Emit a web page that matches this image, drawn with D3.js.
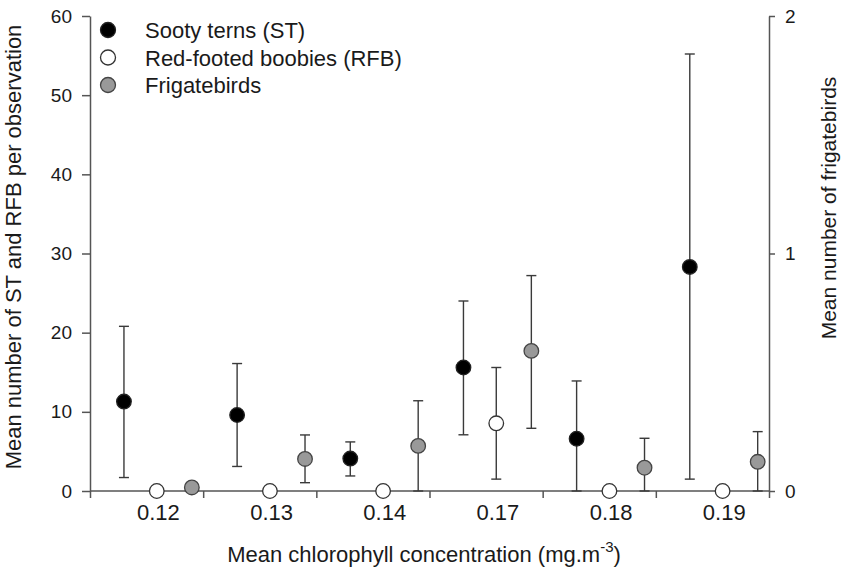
<!DOCTYPE html>
<html>
<head>
<meta charset="utf-8">
<script src="https://cdn.jsdelivr.net/npm/d3@7"></script>
<style>
  body { margin: 0; background: #fff; }
  text { font-family: "Liberation Sans", Arial, sans-serif; fill: #1a1a1a; }
</style>
</head>
<body>
<div id="chart"></div>
<script>
// chlorophyll classes on the x axis
var categories = ["0.12", "0.13", "0.14", "0.17", "0.18", "0.19"];

// Sooty terns (left axis)
var stMean  = [11.3, 9.6, 4.1, 15.6, 6.6, 28.3];
var stUpper = [20.8, 16.1, 6.2, 24.0, 13.9, 55.2];
var stLower = [1.7, 3.1, 1.9, 7.1, 0, 1.5];

// Red-footed boobies (left axis)
var rfbMean  = [0, 0, 0, 8.55, 0, 0];
var rfbUpper = [null, null, null, 15.6, null, null];
var rfbLower = [null, null, null, 1.5, null, null];

// Frigatebirds (right axis)
var fbMean  = [0.015, 0.135, 0.19, 0.59, 0.098, 0.123];
var fbUpper = [null, 0.236, 0.38, 0.907, 0.222, 0.25];
var fbLower = [null, 0.035, 0, 0.264, 0, 0];

var leftTicks = [0, 10, 20, 30, 40, 50, 60];
var rightTicks = [0, 1, 2];

function drawGraph() {
    var width = 849, height = 570;
    var left = 90, right = 769, top = 16, bottom = 491;

    var svg = d3.select("#chart")
        .append("svg")
        .attr("width", width)
        .attr("height", height);

    var x = d3.scaleBand()
        .domain(categories)
        .range([left, right])
        .paddingInner(0)
        .paddingOuter(0);
    var bw = x.bandwidth();

    var yLeft = d3.scaleLinear().domain([0, 60]).range([bottom, top]);
    var yRight = d3.scaleLinear().domain([0, 2]).range([bottom, top]);

    // band boundaries carry the x tick marks
    var xEdge = d3.scaleLinear().domain([0, categories.length]).range([left, right]);

    var axisColor = "#555";

    var gx = svg.append("g")
        .attr("transform", "translate(0," + bottom + ")")
        .call(d3.axisBottom(xEdge).tickValues(d3.range(categories.length + 1)).tickSize(7).tickSizeOuter(0).tickFormat(""));
    gx.select(".domain").remove();
    gx.append("line")
        .attr("x1", left).attr("x2", right)
        .attr("stroke", axisColor).attr("stroke-width", 1.5);
    gx.selectAll(".tick line").attr("stroke", axisColor).attr("stroke-width", 1.5);

    // tick labels sit under the RFB column of each group
    var xLab = d3.scalePoint().domain(categories)
        .range([left + bw * 0.6, left + bw * 0.6 + bw * (categories.length - 1)]);
    var gxl = svg.append("g")
        .attr("transform", "translate(0," + bottom + ")")
        .call(d3.axisBottom(xLab).tickSize(0).tickPadding(29));
    gxl.select(".domain").remove();
    gxl.selectAll("text")
        .attr("font-size", "22px")
        .attr("font-family", "Liberation Sans, Arial, sans-serif")
        .attr("fill", "#1a1a1a")
        .attr("dy", "0");

    var gl = svg.append("g")
        .attr("transform", "translate(" + left + ",0)")
        .call(d3.axisLeft(yLeft).tickValues(leftTicks).tickSize(8).tickSizeOuter(0).tickPadding(10));
    gl.select(".domain").attr("stroke", axisColor).attr("stroke-width", 1.5);
    gl.selectAll(".tick line").attr("stroke", axisColor).attr("stroke-width", 1.5);
    gl.selectAll("text")
        .attr("font-size", "19px")
        .attr("font-family", "Liberation Sans, Arial, sans-serif")
        .attr("fill", "#1a1a1a");

    var gr = svg.append("g")
        .attr("transform", "translate(" + right + ",0)")
        .call(d3.axisRight(yRight).tickValues(rightTicks).tickFormat(d3.format("d")).tickSize(6).tickSizeOuter(0).tickPadding(10));
    gr.select(".domain").attr("stroke", axisColor).attr("stroke-width", 1.5);
    gr.selectAll(".tick line").attr("stroke", axisColor).attr("stroke-width", 1.5);
    gr.selectAll("text")
        .attr("font-size", "19px")
        .attr("font-family", "Liberation Sans, Arial, sans-serif")
        .attr("fill", "#1a1a1a");

    // axis titles
    svg.append("text")
        .attr("transform", "translate(21,247) rotate(-90)")
        .attr("text-anchor", "middle")
        .attr("font-size", "22px")
        .text("Mean number of ST and RFB per observation");

    svg.append("text")
        .attr("transform", "translate(836,208) rotate(-90)")
        .attr("text-anchor", "middle")
        .attr("font-size", "21px")
        .text("Mean number of frigatebirds");

    var xt = svg.append("text")
        .attr("x", 424)
        .attr("y", 562)
        .attr("text-anchor", "middle")
        .attr("font-size", "22px");
    xt.append("tspan").text("Mean chlorophyll concentration (mg.m");
    xt.append("tspan").attr("font-size", "15px").attr("dy", -10).text("-3");
    xt.append("tspan").attr("dy", 10).text(")");

    var series = [
        { name: "Sooty terns (ST)", mean: stMean, upper: stUpper, lower: stLower, y: yLeft, off: 0.30, fill: "#000", stroke: "#222" },
        { name: "Red-footed boobies (RFB)", mean: rfbMean, upper: rfbUpper, lower: rfbLower, y: yLeft, off: 0.59, fill: "#fff", stroke: "#333" },
        { name: "Frigatebirds", mean: fbMean, upper: fbUpper, lower: fbLower, y: yRight, off: 0.90, fill: "#999", stroke: "#444" }
    ];

    var barColor = "#3a3a3a";
    var cap = 5;

    series.forEach(function (s) {
        var pts = categories.map(function (c, i) {
            return { cat: c, mean: s.mean[i], upper: s.upper[i], lower: s.lower[i] };
        });
        var cx = function (d) { return x(d.cat) + bw * s.off; };
        var withBars = pts.filter(function (d) { return d.upper != null; });

        var eb = svg.append("g").selectAll("g")
            .data(withBars)
            .enter().append("g")
            .attr("stroke", barColor)
            .attr("stroke-width", 1.4);
        eb.append("line")
            .attr("x1", cx).attr("x2", cx)
            .attr("y1", function (d) { return s.y(d.lower); })
            .attr("y2", function (d) { return s.y(d.upper); });
        eb.append("line")
            .attr("x1", function (d) { return cx(d) - cap; })
            .attr("x2", function (d) { return cx(d) + cap; })
            .attr("y1", function (d) { return s.y(d.upper); })
            .attr("y2", function (d) { return s.y(d.upper); });
        eb.append("line")
            .attr("x1", function (d) { return cx(d) - cap; })
            .attr("x2", function (d) { return cx(d) + cap; })
            .attr("y1", function (d) { return s.y(d.lower); })
            .attr("y2", function (d) { return s.y(d.lower); });

        s.cx = cx;
        s.pts = pts;
    });

    series.forEach(function (s) {
        svg.append("g").selectAll("circle")
            .data(s.pts)
            .enter().append("circle")
            .attr("cx", s.cx)
            .attr("cy", function (d) { return s.y(d.mean); })
            .attr("r", 7.3)
            .attr("fill", s.fill)
            .attr("stroke", s.stroke)
            .attr("stroke-width", 1.3);
    });

    // legend
    var legend = svg.append("g").selectAll("g")
        .data(series)
        .enter().append("g")
        .attr("transform", function (d, i) { return "translate(108," + (30 + i * 27.5) + ")"; });
    legend.append("circle")
        .attr("r", 7.5)
        .attr("fill", function (d) { return d.fill; })
        .attr("stroke", function (d) { return d.stroke; })
        .attr("stroke-width", 1.3);
    legend.append("text")
        .attr("x", 37)
        .attr("y", 8)
        .attr("font-size", "22px")
        .text(function (d) { return d.name; });
}

window.onload = drawGraph;
</script>
</body>
</html>
